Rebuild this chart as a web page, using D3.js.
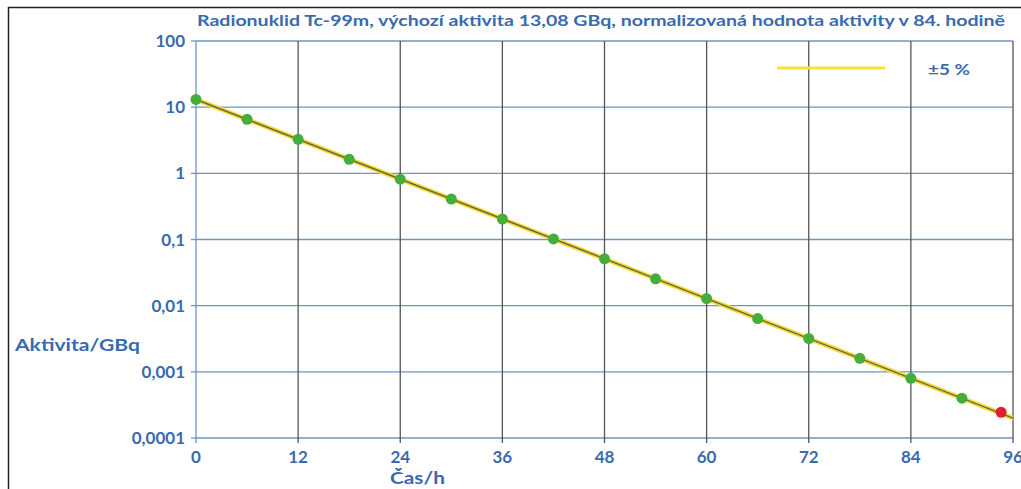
<!DOCTYPE html>
<html>
<head>
<meta charset="utf-8">
<script src="https://cdn.jsdelivr.net/npm/d3@7"></script>
<style>
  body { margin: 0; background: #fff; }
  svg text { font-family: Lato, "Open Sans", sans-serif; font-weight: bold; fill: #3a6aae; }
</style>
</head>
<body>
<svg id="chart" width="1021" height="489"></svg>
<script>
// hodiny a naměřené aktivity (GBq)
var hours = [0, 6, 12, 18, 24, 30, 36, 42, 48, 54, 60, 66, 72, 78, 84, 90];
var activity = [13.08, 6.54, 3.27, 1.63, 0.817, 0.409, 0.204, 0.102, 0.0510, 0.0255,
                0.0128, 0.00638, 0.00319, 0.00160, 0.000798, 0.000399];
var normHour = [94.6];
var normActivity = [0.000245];
var lineHours = [0, 96];
var lineActivity = [13.08, 0.000200];
var xTicks = [0, 12, 24, 36, 48, 60, 72, 84, 96];
var yTicks = [100, 10, 1, 0.1, 0.01, 0.001, 0.0001];
var yTickLabels = ['100', '10', '1', '0,1', '0,01', '0,001', '0,0001'];

var svg = d3.select('#chart'),
    pLeft = 196, pRight = 1013, pTop = 41, pBottom = 438,
    gridBlue = '#6f93c6';

var x = d3.scaleLinear().domain([0, 96]).range([pLeft, pRight]);
var y = d3.scaleLog().domain([0.0001, 100]).range([pBottom, pTop]);

// rámeček
svg.append('rect')
  .attr('x', 8.5).attr('y', 7.5).attr('width', 1100).attr('height', 600)
  .attr('fill', 'none').attr('stroke', '#222').attr('stroke-width', 1.5);

// mřížka
svg.selectAll('.hgrid').data(yTicks).enter().append('line')
  .attr('x1', pLeft).attr('x2', pRight)
  .attr('y1', function (d) { return y(d); }).attr('y2', function (d) { return y(d); })
  .attr('stroke', gridBlue).attr('stroke-width', 1.3);

svg.selectAll('.vgrid').data(xTicks.slice(1)).enter().append('line')
  .attr('x1', function (d) { return x(d); }).attr('x2', function (d) { return x(d); })
  .attr('y1', pTop).attr('y2', pBottom + 5)
  .attr('stroke', '#555').attr('stroke-width', 1.3);

// osa y
svg.append('line').attr('x1', pLeft).attr('x2', pLeft).attr('y1', pTop).attr('y2', pBottom + 5)
  .attr('stroke', gridBlue).attr('stroke-width', 1.3);
svg.selectAll('.ytick').data(yTicks).enter().append('line')
  .attr('x1', pLeft - 5).attr('x2', pLeft)
  .attr('y1', function (d) { return y(d); }).attr('y2', function (d) { return y(d); })
  .attr('stroke', gridBlue).attr('stroke-width', 1.3);

svg.selectAll('.ylab').data(yTicks).enter().append('text')
  .attr('x', pLeft - 11).attr('y', function (d) { return y(d) + 6; })
  .attr('text-anchor', 'end').style('font-size', '17px')
  .text(function (d, i) { return yTickLabels[i]; });

svg.selectAll('.xlab').data(xTicks).enter().append('text')
  .attr('x', function (d) { return x(d); }).attr('y', pBottom + 25)
  .attr('text-anchor', 'middle').style('font-size', '17px')
  .text(function (d) { return d; });

svg.append('text').attr('x', 390).attr('y', 484)
  .attr('textLength', 55).attr('lengthAdjust', 'spacingAndGlyphs')
  .style('font-size', '17px').text('Čas/h');
svg.append('text').attr('x', 15).attr('y', 351)
  .attr('textLength', 125).attr('lengthAdjust', 'spacingAndGlyphs')
  .style('font-size', '17px').text('Aktivita/GBq');

svg.append('text').attr('x', 197).attr('y', 26)
  .attr('textLength', 808).attr('lengthAdjust', 'spacingAndGlyphs')
  .style('font-size', '16px').text('Radionuklid Tc-99m,  výchozí aktivita 13,08 GBq, normalizovaná hodnota aktivity v 84. hodině');

// pásmo ±5 % a křivka
var line = d3.line()
  .x(function (d) { return x(d[0]); })
  .y(function (d) { return y(d[1]); });
var pts = lineHours.map(function (h, i) { return [h, lineActivity[i]]; });

[1.05, 0.95].forEach(function (f) {
  svg.append('path')
    .attr('d', line(pts.map(function (p) { return [p[0], p[1] * f]; })))
    .attr('fill', 'none').attr('stroke', '#f0dc3c').attr('stroke-width', 2);
});
svg.append('path').attr('d', line(pts))
  .attr('fill', 'none').attr('stroke', '#76672c').attr('stroke-width', 1.5);

// body
svg.selectAll('.pt').data(hours).enter().append('circle')
  .attr('cx', function (d) { return x(d); })
  .attr('cy', function (d, i) { return y(activity[i]); })
  .attr('r', 5.5).attr('fill', '#45ad3a');

svg.selectAll('.norm').data(normHour).enter().append('circle')
  .attr('cx', function (d) { return x(d); })
  .attr('cy', function (d, i) { return y(normActivity[i]); })
  .attr('r', 5.5).attr('fill', '#e0202e');

// legenda
svg.append('line').attr('x1', 777).attr('x2', 885).attr('y1', 68).attr('y2', 68)
  .attr('stroke', '#f2e530').attr('stroke-width', 3);
svg.append('text').attr('x', 928).attr('y', 75)
  .attr('textLength', 42).attr('lengthAdjust', 'spacingAndGlyphs')
  .style('font-size', '16px').text('±5 %');
</script>
</body>
</html>
